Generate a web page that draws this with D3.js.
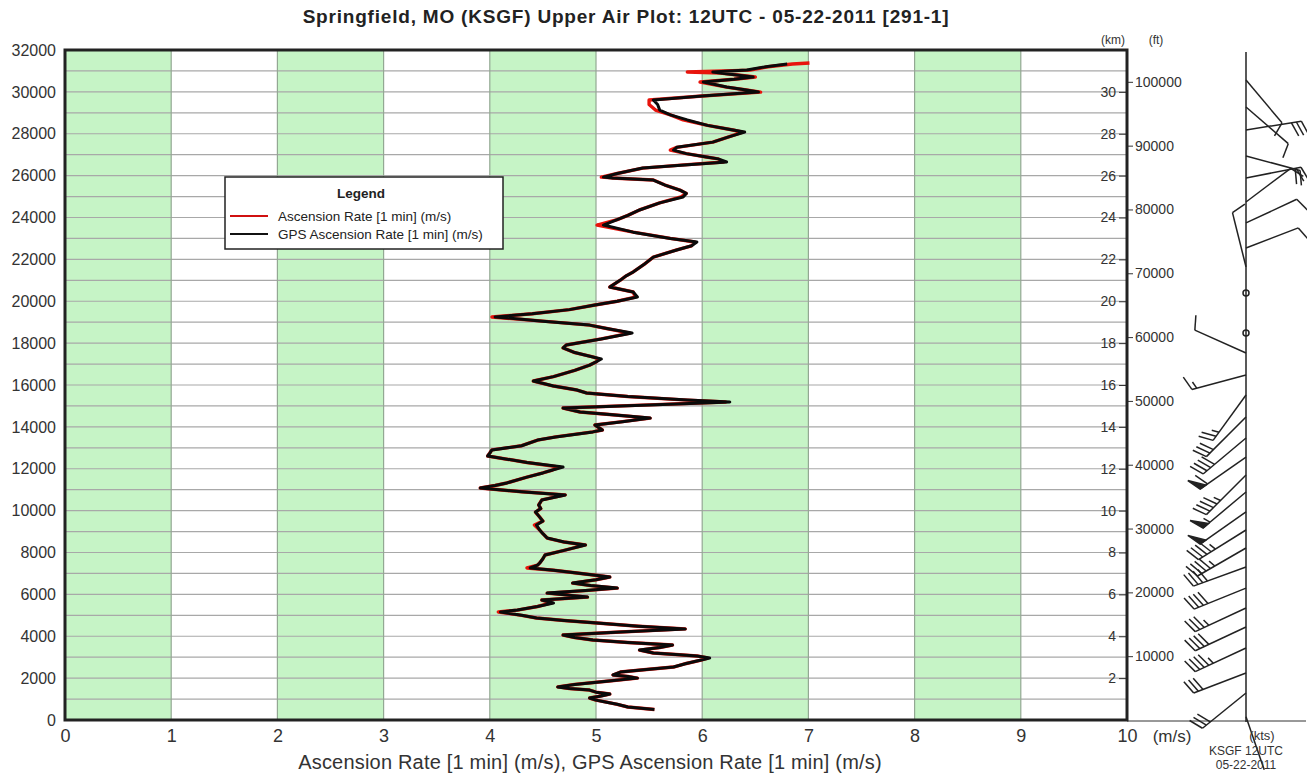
<!DOCTYPE html>
<html>
<head>
<meta charset="utf-8">
<script src="https://cdn.jsdelivr.net/npm/d3@7"></script>
<style>
  body { margin: 0; background: #fff; }
  svg { display: block; font-family: "Liberation Sans", Arial, sans-serif; }
</style>
</head>
<body>
<svg></svg>
<script>
// sounding data: altitude (m) vs rise rate (m/s)
let altitude = [500,620,750,850,950,1050,1150,1240,1330,1430,1500,1580,1700,1850,2000,2080,2150,2290,2400,2530,
  2700,2850,2960,3060,3130,3200,3340,3460,3580,3700,3820,3940,4060,4200,4350,4480,4630,4750,4870,5000,
  5160,5250,5420,5590,5730,5870,6060,6180,6300,6420,6540,6700,6830,7020,7150,7260,7400,7500,7700,7880,
  8100,8360,8500,8690,8900,9070,9310,9500,9690,9930,10100,10270,10510,10750,10900,11080,11200,11320,11600,11800,
  11940,12080,12300,12610,12750,12900,13100,13370,13520,13760,13850,14090,14250,14420,14600,14710,14900,15050,15190,15280,
  15450,15620,15760,15950,16190,16400,16700,16950,17100,17240,17340,17550,17770,17910,18200,18480,18700,18860,19050,19250,
  19400,19600,19820,20000,20200,20440,20680,21010,21200,21400,21750,22110,22450,22650,22830,23000,23300,23640,23900,24100,
  24360,24700,24980,25150,25310,25550,25790,25890,25930,26100,26360,26500,26650,26800,26890,27050,27220,27350,27600,27850,
  28080,28180,28400,28660,28900,29130,29400,29610,29800,29990,30100,30230,30470,30600,30710,30900,30950,31040,31200,31330,31380];

let gpsRate = [5.55,5.30,5.20,5.10,5.00,4.94,5.05,5.13,5.00,4.94,4.75,4.64,4.80,5.10,5.39,5.30,5.16,5.23,5.45,5.73,
  5.85,5.98,6.07,5.95,5.75,5.54,5.41,5.60,5.72,5.30,4.97,4.80,4.69,5.23,5.84,5.40,5.01,4.70,4.44,4.30,
  4.10,4.26,4.45,4.60,4.49,4.92,4.54,4.90,5.20,4.95,4.78,5.00,5.13,4.82,4.60,4.38,4.45,4.47,4.50,4.52,
  4.70,4.90,4.70,4.54,4.50,4.47,4.44,4.50,4.47,4.43,4.48,4.46,4.49,4.71,4.30,3.91,4.05,4.16,4.35,4.50,
  4.59,4.69,4.35,3.98,4.00,4.02,4.30,4.45,4.62,4.97,5.06,4.99,5.25,5.51,5.10,4.85,4.69,5.50,6.26,5.86,
  5.30,4.91,4.82,4.60,4.41,4.60,4.80,4.94,5.00,5.05,4.97,4.80,4.69,4.72,5.05,5.34,5.10,4.94,4.50,4.05,
  4.40,4.75,4.99,5.20,5.39,5.35,5.13,5.23,5.28,5.35,5.45,5.54,5.76,5.90,5.95,5.70,5.35,5.07,5.20,5.30,
  5.41,5.60,5.82,5.85,5.79,5.65,5.54,5.15,5.07,5.20,5.44,5.80,6.23,6.15,6.04,5.85,5.73,5.76,6.10,6.25,
  6.40,6.29,6.05,5.86,5.70,5.60,5.58,5.54,6.00,6.53,6.40,6.23,6.01,6.30,6.48,6.17,6.10,6.42,6.60,6.80,null];

let ascRate = [5.55,5.30,5.20,5.10,5.00,4.94,5.05,5.13,5.00,4.94,4.75,4.64,4.80,5.10,5.39,5.30,5.16,5.23,5.45,5.73,
  5.85,5.98,6.05,5.95,5.75,5.54,5.41,5.60,5.72,5.30,4.97,4.80,4.69,5.23,5.84,5.40,5.01,4.70,4.44,4.30,
  4.08,4.26,4.45,4.58,4.49,4.92,4.54,4.90,5.20,4.95,4.78,5.00,5.13,4.82,4.60,4.35,4.45,4.47,4.50,4.52,
  4.70,4.90,4.70,4.54,4.50,4.47,4.42,4.50,4.47,4.43,4.48,4.46,4.49,4.71,4.30,3.91,4.05,4.16,4.35,4.50,
  4.59,4.66,4.35,3.98,4.00,4.02,4.30,4.45,4.62,4.97,5.06,4.99,5.25,5.51,5.10,4.85,4.69,5.50,6.22,5.86,
  5.30,4.91,4.82,4.60,4.41,4.60,4.80,4.94,5.00,5.03,4.97,4.80,4.69,4.72,5.05,5.32,5.10,4.94,4.50,4.02,
  4.40,4.75,4.99,5.20,5.37,5.35,5.13,5.23,5.28,5.35,5.45,5.54,5.76,5.90,5.93,5.70,5.35,5.01,5.20,5.30,
  5.41,5.60,5.80,5.85,5.79,5.65,5.54,5.15,5.05,5.20,5.44,5.80,6.20,6.15,6.04,5.85,5.70,5.76,6.10,6.25,
  6.38,6.29,6.05,5.82,5.70,5.56,5.50,5.50,6.00,6.55,6.40,6.23,5.98,6.30,6.50,6.17,5.86,6.45,6.62,6.85,7.01];

// wind barbs on the right: altitude (m), direction (deg), speed (kts)
let windAlt = [150,1290,2245,3440,4440,5350,6300,7310,8215,9075,9935,10890,11700,12560,13470,14470,15520,16480,17530,18480,
  20390,21640,22545,23740,24740,25890,26940,28180,29280,30570];
let windDir = [161,231,249,245,245,245,248,250,240,238,235,230,225,235,230,225,216,255,294,0,
  0,346,69,65,53,79,105,81,131,140];
let windSpd = [0,30,30,45,40,35,40,40,45,45,50,55,45,60,40,30,25,15,10,0,
  0,10,10,10,10,20,20,30,10,10];

let rateTicks = [0,1,2,3,4,5,6,7,8,9,10];
let heightTicks = [0,2000,4000,6000,8000,10000,12000,14000,16000,18000,20000,22000,24000,26000,28000,30000,32000];
let gridHeights = [1000,3000,5000,7000,9000,11000,13000,15000,17000,19000,21000,23000,25000,27000,29000,31000];
let kmTicks = [2,4,6,8,10,12,14,16,18,20,22,24,26,28,30];
let ftTicks = [10000,20000,30000,40000,50000,60000,70000,80000,90000,100000];
let greenBands = [0,2,4,6,8];

let width = 1307;
let height = 778;
let plotL = 65, plotR = 1127, plotT = 50, plotB = 720;
let staffX = 1246;

let svg = d3.select("svg").attr("width", width).attr("height", height);

let xScale = d3.scaleLinear().domain([0,10]).range([plotL,plotR]);
let yScale = d3.scaleLinear().domain([0,32000]).range([plotB,plotT]);
let kmScale = d3.scaleLinear().domain([0,32]).range([plotB,plotT]);
let ftScale = d3.scaleLinear().domain([0,32000/0.3048]).range([plotB,plotT]);

// title
svg.append("text")
   .attr("x", 626).attr("y", 23)
   .attr("text-anchor","middle")
   .attr("font-size", 19).attr("font-weight","bold")
   .attr("letter-spacing", 0.8)
   .attr("fill","#222")
   .text("Springfield, MO (KSGF) Upper Air Plot: 12UTC - 05-22-2011 [291-1]");

// green columns
svg.append("g").selectAll("rect")
   .data(greenBands).enter().append("rect")
   .attr("x", d => xScale(d))
   .attr("y", plotT)
   .attr("width", d => xScale(d+1)-xScale(d))
   .attr("height", plotB-plotT)
   .attr("fill","#c6f4c6");

// horizontal grid every 1000 m
svg.append("g").selectAll("line")
   .data(heightTicks.concat(gridHeights)).enter().append("line")
   .attr("x1", plotL).attr("x2", plotR)
   .attr("y1", d => yScale(d)).attr("y2", d => yScale(d))
   .attr("stroke","#a8a8a8").attr("stroke-width",1.2);

// vertical grid
svg.append("g").selectAll("line")
   .data(rateTicks).enter().append("line")
   .attr("x1", d => xScale(d)).attr("x2", d => xScale(d))
   .attr("y1", plotT).attr("y2", plotB)
   .attr("stroke","#93a893").attr("stroke-width",1.2);

// left axis
let yAxis = d3.axisLeft(yScale).tickValues(heightTicks).tickSize(0).tickPadding(9).tickFormat(d3.format("d"));
let gy = svg.append("g").attr("transform","translate(" + plotL + ",0)").call(yAxis);
gy.select(".domain").remove();
gy.selectAll("text").attr("font-size",16).attr("fill","#333").attr("font-family","Liberation Sans, Arial");

// bottom axis
let xAxis = d3.axisBottom(xScale).tickValues(rateTicks).tickSize(0).tickPadding(9).tickFormat(d3.format("d"));
let gx = svg.append("g").attr("transform","translate(0," + plotB + ")").call(xAxis);
gx.select(".domain").remove();
gx.selectAll("text").attr("font-size",18).attr("fill","#333").attr("font-family","Liberation Sans, Arial");

svg.append("text").attr("x",1172).attr("y",742).attr("text-anchor","middle")
   .attr("font-size",17).attr("fill","#333").text("(m/s)");

svg.append("text").attr("x",590).attr("y",769).attr("text-anchor","middle")
   .attr("font-size",20).attr("letter-spacing",0.2).attr("fill","#333")
   .text("Ascension Rate [1 min] (m/s), GPS Ascension Rate [1 min] (m/s)");

// right km / ft axes
let kmAxis = d3.axisLeft(kmScale).tickValues(kmTicks).tickSize(8).tickPadding(3);
let gk = svg.append("g").attr("transform","translate(" + plotR + ",0)").call(kmAxis);
gk.select(".domain").remove();
gk.selectAll("line").attr("stroke","#333");
gk.selectAll("text").attr("font-size",14).attr("fill","#333").attr("font-family","Liberation Sans, Arial");

let ftAxis = d3.axisRight(ftScale).tickValues(ftTicks).tickSize(6).tickPadding(2).tickFormat(d3.format("d"));
let gf = svg.append("g").attr("transform","translate(" + plotR + ",0)").call(ftAxis);
gf.select(".domain").remove();
gf.selectAll("line").attr("stroke","#333");
gf.selectAll("text").attr("font-size",14).attr("fill","#333").attr("font-family","Liberation Sans, Arial");

svg.append("text").attr("x",1113).attr("y",44).attr("text-anchor","middle")
   .attr("font-size",12).attr("fill","#333").text("(km)");
svg.append("text").attr("x",1156).attr("y",44).attr("text-anchor","middle")
   .attr("font-size",12).attr("fill","#333").text("(ft)");

// frame
svg.append("line").attr("x1",plotR).attr("x2",1306).attr("y1",plotB+1).attr("y2",plotB+1)
   .attr("stroke","#333").attr("stroke-width",1);
svg.append("rect")
   .attr("x",plotL).attr("y",plotT).attr("width",plotR-plotL).attr("height",plotB-plotT)
   .attr("fill","none").attr("stroke","#222").attr("stroke-width",3);

// profile lines
let lineRed = d3.line()
  .defined((d,i) => ascRate[i] != null)
  .x((d,i) => xScale(ascRate[i]))
  .y(d => yScale(d));
let lineBlack = d3.line()
  .defined((d,i) => gpsRate[i] != null)
  .x((d,i) => xScale(gpsRate[i]))
  .y(d => yScale(d));

svg.append("path").attr("d", lineRed(altitude))
   .attr("fill","none").attr("stroke","#e8140c").attr("stroke-width",3.4)
   .attr("stroke-linejoin","round");
svg.append("path").attr("d", lineBlack(altitude))
   .attr("fill","none").attr("stroke","#0a0a0a").attr("stroke-width",3)
   .attr("stroke-linejoin","round");

// legend
let lg = svg.append("g").attr("transform","translate(225,177)");
lg.append("rect").attr("width",278).attr("height",72)
  .attr("fill","#fff").attr("stroke","#222").attr("stroke-width",1.5);
lg.append("text").attr("x",136).attr("y",21).attr("text-anchor","middle")
  .attr("font-size",13.5).attr("font-weight","bold").attr("fill","#222").text("Legend");
lg.append("line").attr("x1",5).attr("x2",43).attr("y1",39).attr("y2",39)
  .attr("stroke","#d01010").attr("stroke-width",2);
lg.append("line").attr("x1",5).attr("x2",43).attr("y1",57).attr("y2",57)
  .attr("stroke","#111").attr("stroke-width",2);
lg.append("text").attr("x",53).attr("y",44).attr("font-size",13.5).attr("fill","#222")
  .text("Ascension Rate [1 min] (m/s)");
lg.append("text").attr("x",53).attr("y",62).attr("font-size",13.5).attr("fill","#222")
  .text("GPS Ascension Rate [1 min] (m/s)");

// wind barb panel
svg.append("line").attr("x1",staffX).attr("x2",staffX).attr("y1",plotT+2).attr("y2",plotB+2)
   .attr("stroke","#222").attr("stroke-width",1.5);

let barbs = svg.append("g").attr("stroke","#222").attr("stroke-width",1.5).attr("fill","#222");
let shaftLen = 56, featherLen = 15, gap = 5;
windAlt.forEach((alt,i) => {
  let sy = yScale(alt);
  let spd = windSpd[i];
  if (spd === 0 && windDir[i] === 0) {
    barbs.append("circle").attr("cx",staffX).attr("cy",sy).attr("r",3).attr("fill","none");
    return;
  }
  let b = windDir[i]*Math.PI/180;
  let ux = Math.sin(b), uy = -Math.cos(b);
  let ex = staffX + shaftLen*ux, ey = sy + shaftLen*uy;
  barbs.append("line").attr("x1",staffX).attr("y1",sy).attr("x2",ex).attr("y2",ey);
  let a = Math.atan2(uy,ux) + 70*Math.PI/180;
  let fx = Math.cos(a), fy = Math.sin(a);
  let rest = Math.round(spd/5)*5;
  let pos = 0;
  while (rest >= 50) {
    let px = ex - pos*ux, py = ey - pos*uy;
    let qx = ex - (pos+7)*ux, qy = ey - (pos+7)*uy;
    barbs.append("path")
      .attr("d","M"+px+","+py+"L"+(px+featherLen*fx)+","+(py+featherLen*fy)+"L"+qx+","+qy+"Z");
    pos += 9; rest -= 50;
  }
  while (rest >= 10) {
    let px = ex - pos*ux, py = ey - pos*uy;
    barbs.append("line").attr("x1",px).attr("y1",py)
      .attr("x2",px+featherLen*fx).attr("y2",py+featherLen*fy);
    pos += gap; rest -= 10;
  }
  if (rest >= 5) {
    if (pos === 0) pos = gap;
    let px = ex - pos*ux, py = ey - pos*uy;
    barbs.append("line").attr("x1",px).attr("y1",py)
      .attr("x2",px+featherLen*0.5*fx).attr("y2",py+featherLen*0.5*fy);
  }
});

svg.append("text").attr("x",1262).attr("y",740).attr("text-anchor","middle")
   .attr("font-size",13).attr("fill","#333").text("(kts)");
svg.append("text").attr("x",1246).attr("y",755).attr("text-anchor","middle")
   .attr("font-size",12).attr("fill","#333").text("KSGF  12UTC");
svg.append("text").attr("x",1246).attr("y",769).attr("text-anchor","middle")
   .attr("font-size",12).attr("fill","#333").text("05-22-2011");
</script>
</body>
</html>
